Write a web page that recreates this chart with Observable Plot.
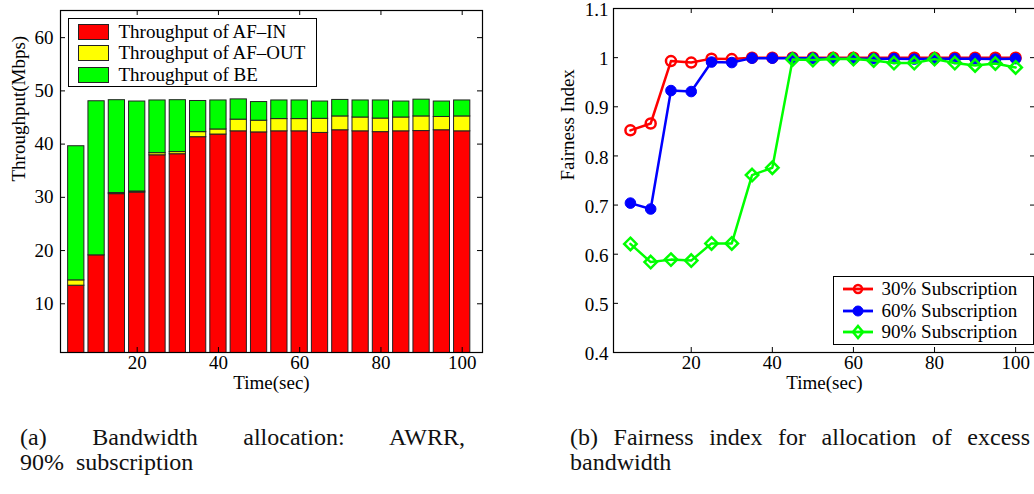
<!DOCTYPE html>
<html><head><meta charset="utf-8">
<script src="https://cdn.jsdelivr.net/npm/d3@7"></script>
<script src="https://cdn.jsdelivr.net/npm/@observablehq/plot@0.6"></script>
<style>
html,body{margin:0;padding:0;background:#fff;width:1034px;height:494px;overflow:hidden;}
#root{position:relative;width:1034px;height:494px;font-family:"Liberation Serif","Times New Roman",serif;color:#000;}
.panel{position:absolute;top:0;}
.legend{position:absolute;background:#fff;border:1.3px solid #000;box-sizing:border-box;font-size:19px;}
.row{position:absolute;left:0;height:22px;display:flex;align-items:center;white-space:nowrap;}
.cap{position:absolute;font-size:24px;line-height:25px;color:#111;white-space:nowrap;}
.just{text-align:justify;text-align-last:justify;white-space:normal;}
</style></head>
<body><div id="root"></div>
<script>
// ---------- data ----------
const times = [5,10,15,20,25,30,35,40,45,50,55,60,65,70,75,80,85,90,95,100];
const barSeries = ["Throughput of AF\u2013IN", "Throughput of AF\u2013OUT", "Throughput of BE"];
const barColors = ["#ff0000", "#ffff00", "#00ff00"];
const afIn  = [13.4,19.1,30.6,30.9,37.9,38.1,41.3,41.8,42.4,42.2,42.4,42.4,42.1,42.6,42.4,42.25,42.4,42.45,42.6,42.4];
const afOut = [1.0,0.0,0.2,0.2,0.4,0.4,0.95,0.95,2.2,2.2,2.3,2.3,2.65,2.6,2.6,2.55,2.6,2.75,2.5,2.8];
const be    = [25.2,28.95,17.45,16.9,9.9,9.75,5.85,5.45,3.8,3.5,3.5,3.5,3.25,3.1,3.2,3.4,3.0,3.15,2.9,3.0];
const xTicks = [20,40,60,80,100];
const yTicksA = [10,20,30,40,50,60];
const yTicksB = [0.4,0.5,0.6,0.7,0.8,0.9,1,1.1];
const lineSeries = ["30% Subscription", "60% Subscription", "90% Subscription"];
const lineColors = ["#ff0000", "#0000ff", "#00ff00"];
const fair30 = [0.852,0.866,0.993,0.990,0.998,0.997,1.0,1.0,1.0,1.0,1.0,1.0,1.0,1.0,1.0,1.0,1.0,1.0,1.0,1.0];
const fair60 = [0.704,0.692,0.933,0.931,0.991,0.990,0.999,0.999,0.999,0.999,0.998,0.998,0.998,0.998,0.997,0.998,0.998,0.998,0.997,0.998];
const fair90 = [0.621,0.584,0.589,0.587,0.622,0.622,0.761,0.776,0.996,0.995,0.997,0.997,0.994,0.989,0.989,0.997,0.989,0.984,0.988,0.980];
const captionA = ["(a) Bandwidth allocation: AWRR,", "90%\u2002subscription"];
const captionB = ["(b) Fairness index for allocation of excess", "bandwidth"];

const root = document.getElementById("root");
const FONT = "'Liberation Serif', 'Times New Roman', serif";

// ---------- left: stacked bars ----------
const barRows = [];
[afIn, afOut, be].forEach((arr, i) => arr.forEach((v, j) => barRows.push({t: times[j], v, s: barSeries[i]})));

const W1 = 490, H1 = 400, mL1 = 60, mR1 = 8, mT1 = 10, mB1 = 48;
const fw1 = W1 - mL1 - mR1, fh1 = H1 - mT1 - mB1;
const left = Plot.plot({
  width: W1, height: H1, marginLeft: mL1, marginRight: mR1, marginTop: mT1, marginBottom: mB1,
  x: {domain: [1.12, 105], axis: null},
  y: {domain: [0.85, 65.1], axis: null},
  color: {domain: barSeries, range: barColors},
  style: {fontFamily: FONT, fontSize: "19px", background: "white", overflow: "visible", color: "#000"},
  marks: [
    Plot.rectY(barRows, Plot.stackY({x1: d => d.t - 2, x2: d => d.t + 2, y: "v", fill: "s", stroke: "#222", strokeWidth: 1, clip: true})),
    Plot.tickX(xTicks, {x: d => d, insetTop: fh1 - 5, stroke: "#000"}),
    Plot.tickX(xTicks, {x: d => d, insetBottom: fh1 - 5, stroke: "#000"}),
    Plot.tickY(yTicksA, {y: d => d, insetRight: fw1 - 5, stroke: "#000"}),
    Plot.tickY(yTicksA, {y: d => d, insetLeft: fw1 - 5, stroke: "#000"}),
    Plot.text(xTicks, {x: d => d, frameAnchor: "bottom", dy: 16, text: d => String(d), fontSize: 19, fill: "#000"}),
    Plot.text(yTicksA, {y: d => d, frameAnchor: "left", dx: -7, textAnchor: "end", text: d => String(d), fontSize: 19, fill: "#000"}),
    Plot.text(["Time(sec)"], {frameAnchor: "bottom", dy: 36, text: d => d, fontSize: 19, fill: "#000"}),
    Plot.text(["Throughput(Mbps)"], {frameAnchor: "left", dx: -42, rotate: -90, text: d => d, fontSize: 19, fill: "#000"}),
    Plot.frame({stroke: "#000", strokeWidth: 1.2})
  ]
});
const p1 = document.createElement("div");
p1.className = "panel"; p1.style.left = "0px"; p1.style.width = W1 + "px";
p1.appendChild(left); root.appendChild(p1);

// legend A
const legA = document.createElement("div");
legA.className = "legend";
Object.assign(legA.style, {left: "67.5px", top: "18px", width: "249px", height: "69px"});
barSeries.forEach((s, i) => {
  const r = document.createElement("div");
  r.className = "row";
  r.style.top = (1.5 + i * 21.5) + "px";
  r.innerHTML = `<span style="display:inline-block;width:29px;height:14px;background:${barColors[i]};border:1px solid #222;margin-left:9px;margin-right:10px"></span><span>${s}</span>`;
  legA.appendChild(r);
});
root.appendChild(legA);

// ---------- right: fairness lines ----------
const fairRows = [];
[fair30, fair60, fair90].forEach((arr, i) => arr.forEach((v, j) => fairRows.push({t: times[j], v, s: lineSeries[i]})));
const dotStyles = [
  {symbol: "circle", r: 5, fill: "none", strokeWidth: 2.5},
  {symbol: "circle", r: 5.3, fill: lineColors[1], strokeWidth: 1},
  {symbol: "diamond2", r: 5.6, fill: "none", strokeWidth: 2.5}
];
const W2 = 496, H2 = 400, mL2 = 73, mR2 = 1, mT2 = 8, mB2 = 48;
const fw2 = W2 - mL2 - mR2, fh2 = H2 - mT2 - mB2;
const seriesMarks = [];
lineSeries.forEach((s, i) => {
  const rows = fairRows.filter(d => d.s === s);
  seriesMarks.push(Plot.line(rows, {x: "t", y: "v", stroke: lineColors[i], strokeWidth: 2.5}));
  seriesMarks.push(Plot.dot(rows, {x: "t", y: "v", stroke: lineColors[i], ...dotStyles[i]}));
});
const right = Plot.plot({
  width: W2, height: H2, marginLeft: mL2, marginRight: mR2, marginTop: mT2, marginBottom: mB2,
  x: {domain: [0.83, 104.9], axis: null},
  y: {domain: [0.4, 1.1], axis: null},
  style: {fontFamily: FONT, fontSize: "19px", background: "white", overflow: "visible", color: "#000"},
  marks: [
    ...seriesMarks,
    Plot.tickX(xTicks, {x: d => d, insetTop: fh2 - 5, stroke: "#000"}),
    Plot.tickX(xTicks, {x: d => d, insetBottom: fh2 - 5, stroke: "#000"}),
    Plot.tickY(yTicksB, {y: d => d, insetRight: fw2 - 5, stroke: "#000"}),
    Plot.tickY(yTicksB, {y: d => d, insetLeft: fw2 - 5, stroke: "#000"}),
    Plot.text(xTicks, {x: d => d, frameAnchor: "bottom", dy: 16, text: d => String(d), fontSize: 19, fill: "#000"}),
    Plot.text(yTicksB, {y: d => d, frameAnchor: "left", dx: -5, dy: 1.5, textAnchor: "end", text: d => String(d), fontSize: 19, fill: "#000"}),
    Plot.text(["Time(sec)"], {frameAnchor: "bottom", dy: 36, text: d => d, fontSize: 19, fill: "#000"}),
    Plot.text(["Fairness Index"], {frameAnchor: "left", dx: -46, rotate: -90, text: d => d, fontSize: 19, fill: "#000"}),
    Plot.frame({stroke: "#000", strokeWidth: 1.2})
  ]
});
const p2 = document.createElement("div");
p2.className = "panel"; p2.style.left = "540px"; p2.style.width = W2 + "px";
p2.appendChild(right); root.appendChild(p2);

// legend B
const legB = document.createElement("div");
legB.className = "legend";
Object.assign(legB.style, {left: "832.5px", top: "276px", width: "201px", height: "68.5px"});
const markerSvg = i => {
  const c = lineColors[i];
  let m;
  if (i === 0) m = `<circle cx="15" cy="7" r="4" fill="none" stroke="${c}" stroke-width="2.5"/>`;
  else if (i === 1) m = `<circle cx="15" cy="7" r="5" fill="${c}" stroke="${c}"/>`;
  else m = `<path d="M15,1 L20,7 L15,13 L10,7 Z" fill="none" stroke="${c}" stroke-width="2.5"/>`;
  return `<svg width="30" height="14" style="margin-left:9px;margin-right:9px;overflow:visible"><line x1="0" y1="7" x2="30" y2="7" stroke="${c}" stroke-width="2.8"/>${m}</svg>`;
};
lineSeries.forEach((s, i) => {
  const r = document.createElement("div");
  r.className = "row";
  r.style.top = (1 + i * 21.7) + "px";
  r.innerHTML = markerSvg(i) + `<span>${s}</span>`;
  legB.appendChild(r);
});
root.appendChild(legB);

// ---------- captions ----------
function caption(lines, x, w, top) {
  lines.forEach((t, i) => {
    const d = document.createElement("div");
    d.className = "cap" + (i === 0 ? " just" : "");
    Object.assign(d.style, {left: x + "px", top: (top + i * 25) + "px", width: w + "px"});
    d.textContent = t;
    root.appendChild(d);
  });
}
caption(captionA, 20, 445, 425);
caption(captionB, 570, 460, 425);
</script></body></html>
